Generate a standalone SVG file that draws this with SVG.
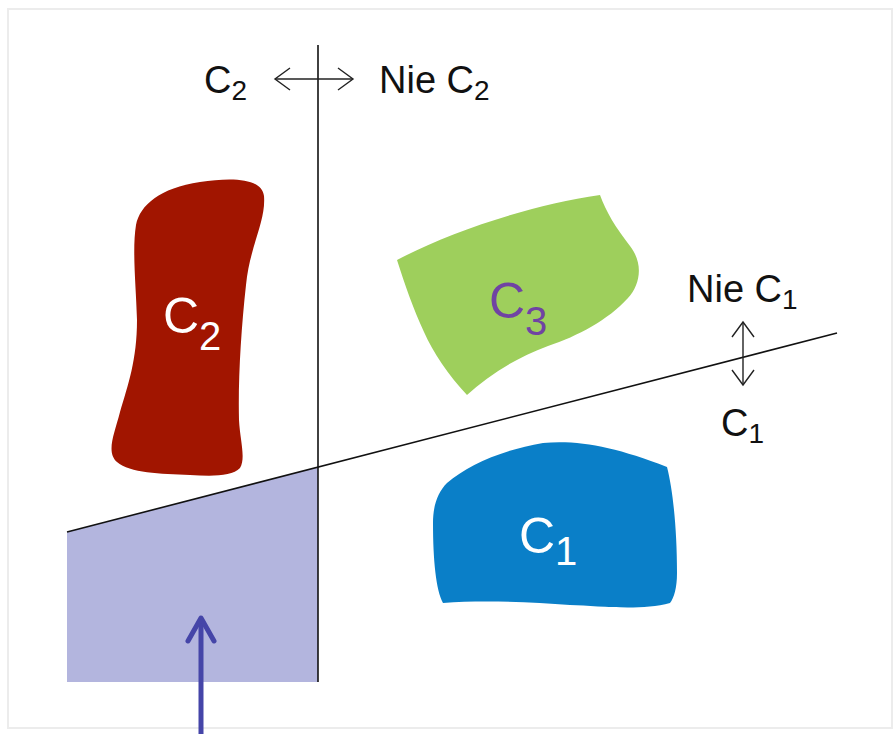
<svg xmlns="http://www.w3.org/2000/svg" width="895" height="734" viewBox="0 0 895 734">
  <style>
    .lbl { font-family: "Liberation Sans", Arial, sans-serif; font-size: 38px; fill: #111; }
    .big { font-family: "Liberation Sans", Arial, sans-serif; font-size: 50px; fill: #fff; }
    .line { stroke: #111; stroke-width: 1.6; fill: none; }
    .dbl { stroke: #222; stroke-width: 1.4; fill: none; marker-start: url(#chev); marker-end: url(#chev); }
  </style>
  <defs>
    <marker id="chev" viewBox="0 0 20 24" refX="18" refY="12" markerWidth="20" markerHeight="24" markerUnits="userSpaceOnUse" orient="auto-start-reverse">
      <polyline points="3,1 18,12 3,23" fill="none" stroke="#222" stroke-width="1.4"/>
    </marker>
  </defs>
  <rect x="0" y="0" width="895" height="734" fill="#fff"/>
  <rect x="8" y="9" width="884" height="719" fill="#fff" stroke="#ececec" stroke-width="2"/>

  <g id="region">
    <polygon points="67,532 318,467 318,682 67,682" fill="#b3b5de"/>
  </g>

  <g id="blob-c2">
    <path d="M 200,182 C 232,177 262,178 264,196 C 266,222 250,245 246,285 C 241,330 238,380 239,420 C 240,440 246,458 240,468 C 232,477 210,476 190,475 C 160,474 130,473 117,462 C 106,452 114,435 120,412 C 128,385 137,360 137,320 C 136,285 132,250 136,225 C 140,205 160,188 200,182 Z" fill="#a11500"/>
    <text class="big" x="163" y="333">C<tspan font-size="40" dy="17">2</tspan></text>
  </g>

  <g id="blob-c3">
    <path d="M 397,260 C 450,232 530,205 600,195 C 606,212 616,228 630,246 C 644,264 640,285 628,298 C 608,320 578,336 548,346 C 515,358 488,376 467,395 C 448,375 433,352 424,332 C 413,308 405,285 397,260 Z" fill="#9ecf5c"/>
    <text class="big" x="489" y="318" style="fill:#7043a3">C<tspan font-size="40" dy="17">3</tspan></text>
  </g>

  <g id="blob-c1">
    <path d="M 447,483 C 468,465 502,450 543,443 C 580,440 615,447 667,467 C 673,490 677,530 677,573 C 677,588 674,598 670,603 C 640,611 600,606 570,605 C 530,602 482,600 443,603 C 436,590 433,560 433,523 C 433,505 438,492 447,483 Z" fill="#0a7fc8"/>
    <text class="big" x="519" y="553">C<tspan font-size="40" dy="12">1</tspan></text>
  </g>

  <g id="connectors">
    <line class="line" x1="318" y1="45" x2="318" y2="682"/>
    <line class="line" x1="67" y1="532" x2="837" y2="333"/>
    <line class="dbl" x1="275" y1="79" x2="353" y2="79"/>
    <line class="dbl" x1="743" y1="322" x2="743" y2="385"/>
    <line x1="201" y1="734" x2="201" y2="619" stroke="#4545a8" stroke-width="5"/>
    <polyline points="188,641 201,618 214,641" fill="none" stroke="#4545a8" stroke-width="5" stroke-linecap="round" stroke-linejoin="round"/>
  </g>

  <g id="labels">
    <text class="lbl" x="204" y="93">C<tspan font-size="28" dy="7">2</tspan></text>
    <text class="lbl" x="379" y="93">Nie C<tspan font-size="28" dy="7">2</tspan></text>
    <text class="lbl" x="687" y="302">Nie C<tspan font-size="28" dy="7">1</tspan></text>
    <text class="lbl" x="721" y="436">C<tspan font-size="28" dy="7">1</tspan></text>
  </g>
</svg>
